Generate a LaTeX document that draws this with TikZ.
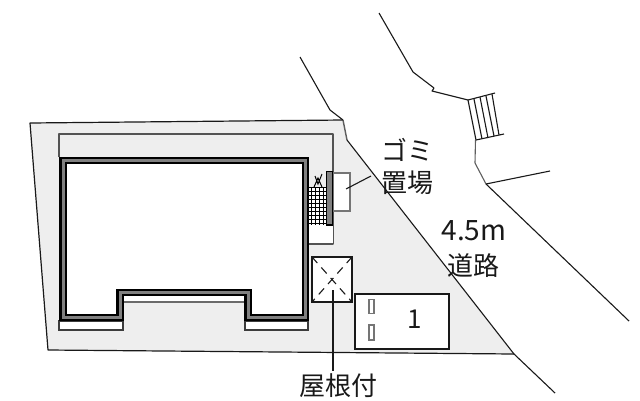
\documentclass[tikz,border=0pt]{standalone}
\usepackage{fontspec}
\setmainfont{Noto Sans CJK JP}
\definecolor{sitegray}{gray}{0.935}
\definecolor{wallgray}{gray}{0.5}
\definecolor{ink}{gray}{0.1}
\tikzset{
  plain/.style={draw=ink,line width=1.1pt,line join=round},
  thinbox/.style={draw=ink!85,line width=1.1pt,fill=white},
  label/.style={font=\fontsize{26}{26}\selectfont,text=ink,inner sep=0pt},
}
\begin{document}
\begin{tikzpicture}[x=1pt,y=-1pt]
\useasboundingbox (0,0) rectangle (640,400);
\clip (0,0) rectangle (640,400);
% site
\fill[sitegray] (30,123) -- (343,120) -- (347,140) -- (514,354) -- (48,350) -- cycle;
\draw[plain,line width=1.2pt] (343,120) -- (30,123) -- (48,350) -- (514,354);
\draw[plain,draw=ink!70,line width=1.4pt] (347,140) -- (343,120);
% inner outline
\draw[plain,line width=1.4pt,draw=ink!75] (59,157) -- (59,134) -- (333,134) -- (333,244) -- (308,244);
\fill[white] (309,225) rectangle (332.5,243.4);
% small strips
\draw[thinbox] (59,321) rectangle (123,330);
\draw[thinbox] (245,321) rectangle (308,330);
\fill[white] (123,296) rectangle (245,301.5);
\draw[draw=ink!65,line width=1.1pt] (123,302) -- (245,302);
% building
\filldraw[fill=white,draw=black,line width=7.4pt,miter limit=10]
  (63,160.5) -- (305.3,160.5) -- (305.3,317.5) -- (248,317.5) -- (248,292.5) -- (120,292.5) -- (120,317.5) -- (63,317.5) -- cycle;
\draw[draw=wallgray,line width=3pt]
  (63,160.5) -- (305.3,160.5) -- (305.3,317.5) -- (248,317.5) -- (248,292.5) -- (120,292.5) -- (120,317.5) -- (63,317.5) -- cycle;
% bicycle hatch
\fill[white] (309,187) rectangle (326,225);
\foreach \x in {311,315,319,323}
  \draw[black,line width=0.9pt] (\x,187) -- (\x,225);
\foreach \y in {187,191,195,199,203,207,211,215,219,223}
  \draw[black,line width=0.9pt] (309,\y) -- (326,\y);
\draw[black,line width=1pt] (315,176) -- (318,184) -- (322,174) (314,187) -- (318,178) -- (322,187);
% garbage
\draw[thinbox,draw=ink!60] (333,173) rectangle (350,211);
\filldraw[fill=wallgray,draw=black,line width=1.6pt] (326.5,171.5) rectangle (332.5,225);
% carport
\filldraw[fill=white,draw=ink,line width=1.2pt] (312,257) rectangle (352,302);
\draw[ink,line width=1.1pt,dash pattern=on 8pt off 6pt] (312,257) -- (352,302);
\draw[ink,line width=1.1pt,dash pattern=on 8pt off 6pt] (352,257) -- (312,302);
% parking
\node[draw=ink,line width=1.2pt,fill=white,minimum width=94pt,minimum height=55pt,inner sep=0pt] (park) at (402,321.5) {};
\node[draw=ink!60,line width=1.3pt,fill=white,minimum width=5pt,minimum height=14pt,inner sep=0pt] (slotA) at (371.5,306.5) {};
\node[draw=ink!60,line width=1.3pt,fill=white,minimum width=5pt,minimum height=15pt,inner sep=0pt] (slotB) at (371.5,332.5) {};
\node[label] (num) at (415,319) {1};
% road edges
\draw[plain] (300,57) -- (330,110) -- (343,120);
\draw[plain] (347,140) -- (514,354) -- (555,393);
\draw[plain] (379,13) -- (413,72) -- (434,88) -- (432,91) -- (468,100);
\draw[plain,draw=ink!70] (475.5,140) -- (475,163) -- (486,184);
\draw[plain] (486,184) -- (550,171);
\draw[plain] (486,184) -- (629,321);
% stairs
\draw[plain] (468,100) -- (495,93);
\draw[plain] (476,140) -- (504,134);
\draw[plain] (468,100) -- (476,140);
\draw[plain] (474,99) -- (482,139);
\draw[plain] (480,97) -- (488,138);
\draw[plain] (486,96) -- (494,136);
\draw[plain] (492,94) -- (499,135);
% labels
\node[label] (gomi) at (407,150) {ゴミ};
\node[label] (okiba) at (407,183) {置場};
\node[label,font=\fontsize{28}{28}\selectfont] (width) at (474,231) {4.5m};
\node[label] (road) at (473,266) {道路};
\node[label] (roof) at (338,386) {屋根付};
% leaders
\coordinate (gb) at (346,189);
\coordinate (gt) at (371,176);
\draw[plain] (gb) -- (gt);
\coordinate (rb) at (333,290);
\coordinate (rt) at (333,371);
\draw[plain] (rb) -- (rt);
\end{tikzpicture}
\end{document}
